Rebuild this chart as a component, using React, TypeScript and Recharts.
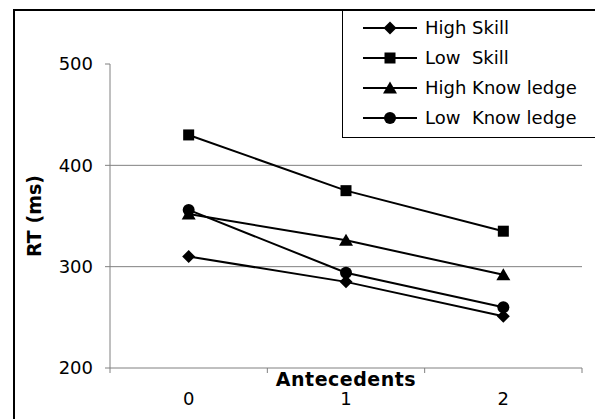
import React from "react";
import {
  LineChart,
  Line,
  XAxis,
  YAxis,
  ReferenceLine,
  Legend,
} from "recharts";

const antecedents = [0, 1, 2];
const highSkill = [310, 285, 251];
const lowSkill = [430, 375, 335];
const highKnowledge = [352, 326, 292];
const lowKnowledge = [356, 294, 260];

const yTicks = [200, 300, 400, 500];
const gridValues = [300, 400];
const xTicks = [-0.5, 0, 0.5, 1, 1.5, 2, 2.5];

const series = [
  { key: "highSkill", name: "High Skill", shape: "diamond" },
  { key: "lowSkill", name: "Low  Skill", shape: "square" },
  { key: "highKnowledge", name: "High Know ledge", shape: "triangle" },
  { key: "lowKnowledge", name: "Low  Know ledge", shape: "circle" },
];

const data = antecedents.map((a, i) => ({
  x: a,
  highSkill: highSkill[i],
  lowSkill: lowSkill[i],
  highKnowledge: highKnowledge[i],
  lowKnowledge: lowKnowledge[i],
}));

const FONT = "'DejaVu Sans', 'Liberation Sans', Arial, sans-serif";
const AXIS = "#808080";

function Marker({ shape, cx, cy }: { shape: string; cx: number; cy: number }) {
  if (shape === "diamond") {
    return (
      <polygon
        points={`${cx},${cy - 6.5} ${cx + 6.5},${cy} ${cx},${cy + 6.5} ${cx - 6.5},${cy}`}
        fill="#000"
      />
    );
  }
  if (shape === "square") {
    return <rect x={cx - 5.5} y={cy - 5.5} width={11} height={11} fill="#000" />;
  }
  if (shape === "triangle") {
    return (
      <polygon
        points={`${cx},${cy - 6.5} ${cx + 7},${cy + 5.5} ${cx - 7},${cy + 5.5}`}
        fill="#000"
      />
    );
  }
  return <circle cx={cx} cy={cy} r={6} fill="#000" />;
}

function XTick(props: any) {
  const { x, y, payload } = props;
  const v = payload.value;
  if (Number.isInteger(v)) {
    return (
      <text
        x={x}
        y={y + 31}
        dy="0.36em"
        textAnchor="middle"
        fontSize={18}
        fontFamily={FONT}
        fill="#000"
      >
        {v}
      </text>
    );
  }
  return <line x1={x} y1={y} x2={x} y2={y + 5} stroke={AXIS} strokeWidth={1} />;
}

function xTitle(props: any) {
  const vb = props.viewBox;
  return (
    <text
      x={vb.x + vb.width / 2}
      y={vb.y + 11}
      dy="0.36em"
      textAnchor="middle"
      fontSize={19}
      fontWeight="bold"
      fontFamily={FONT}
      letterSpacing={0.5}
      fill="#000"
    >
      Antecedents
    </text>
  );
}

function yTitle(props: any) {
  const vb = props.viewBox;
  const cx = vb.x - 16;
  const cy = vb.y + vb.height / 2;
  return (
    <text
      x={cx}
      y={cy}
      dy="0.36em"
      textAnchor="middle"
      transform={`rotate(-90 ${cx} ${cy})`}
      fontSize={19}
      fontWeight="bold"
      fontFamily={FONT}
      fill="#000"
    >
      RT (ms)
    </text>
  );
}

function LegendBox() {
  return (
    <div
      style={{
        width: 270,
        height: 128,
        boxSizing: "border-box",
        border: "1px solid #000",
        background: "#fff",
        paddingTop: 2,
        paddingLeft: 20,
        fontFamily: FONT,
        fontSize: 18,
        color: "#000",
      }}
    >
      {series.map((s) => (
        <div
          key={s.key}
          style={{ display: "flex", alignItems: "center", height: 30 }}
        >
          <svg width={54} height={30} style={{ display: "block" }}>
            <line x1={0} y1={15} x2={54} y2={15} stroke="#000" strokeWidth={2} />
            <Marker shape={s.shape} cx={27} cy={15} />
          </svg>
          <span style={{ marginLeft: 8, whiteSpace: "pre", lineHeight: "30px" }}>
            {s.name}
          </span>
        </div>
      ))}
    </div>
  );
}

export default function App() {
  return (
    <div
      style={{
        position: "absolute",
        left: 0,
        top: 0,
        width: 595,
        height: 419,
        overflow: "hidden",
        background: "#fff",
      }}
    >
      <div
        style={{
          position: "absolute",
          left: 13,
          top: 9,
          width: 700,
          height: 500,
          border: "2px solid #000",
        }}
      />
      <div style={{ position: "absolute", left: 0, top: 0 }}>
        <LineChart
          width={595}
          height={419}
          data={data}
          margin={{ top: 64, right: 13, bottom: 21, left: 50 }}
          style={{ fontFamily: FONT }}
        >
          {gridValues.map((v) => (
            <ReferenceLine key={v} y={v} stroke={AXIS} strokeWidth={1} />
          ))}
          <XAxis
            dataKey="x"
            type="number"
            domain={[-0.5, 2.5]}
            ticks={xTicks}
            interval={0}
            tickLine={false}
            tickSize={0}
            tickMargin={0}
            height={30}
            axisLine={{ stroke: AXIS, strokeWidth: 1 }}
            tick={<XTick />}
            label={{ content: xTitle }}
          />
          <YAxis
            type="number"
            domain={[200, 500]}
            ticks={yTicks}
            interval={0}
            width={60}
            tickSize={5}
            tickMargin={12}
            axisLine={{ stroke: AXIS, strokeWidth: 1 }}
            tickLine={{ stroke: AXIS, strokeWidth: 1 }}
            tick={{ fill: "#000", fontSize: 18, fontFamily: FONT }}
            label={{ content: yTitle }}
          />
          <Legend
            layout="vertical"
            align="center"
            verticalAlign="middle"
            content={<LegendBox />}
            wrapperStyle={{ position: "absolute", left: 342, top: 10, width: 270 }}
          />
          {series.map((s) => (
            <Line
              key={s.key}
              dataKey={s.key}
              name={s.name}
              stroke="#000"
              strokeWidth={2}
              isAnimationActive={false}
              dot={(p: any) => (
                <Marker key={`${s.key}-${p.index}`} shape={s.shape} cx={p.cx} cy={p.cy} />
              )}
              activeDot={false}
            />
          ))}
        </LineChart>
      </div>
    </div>
  );
}
